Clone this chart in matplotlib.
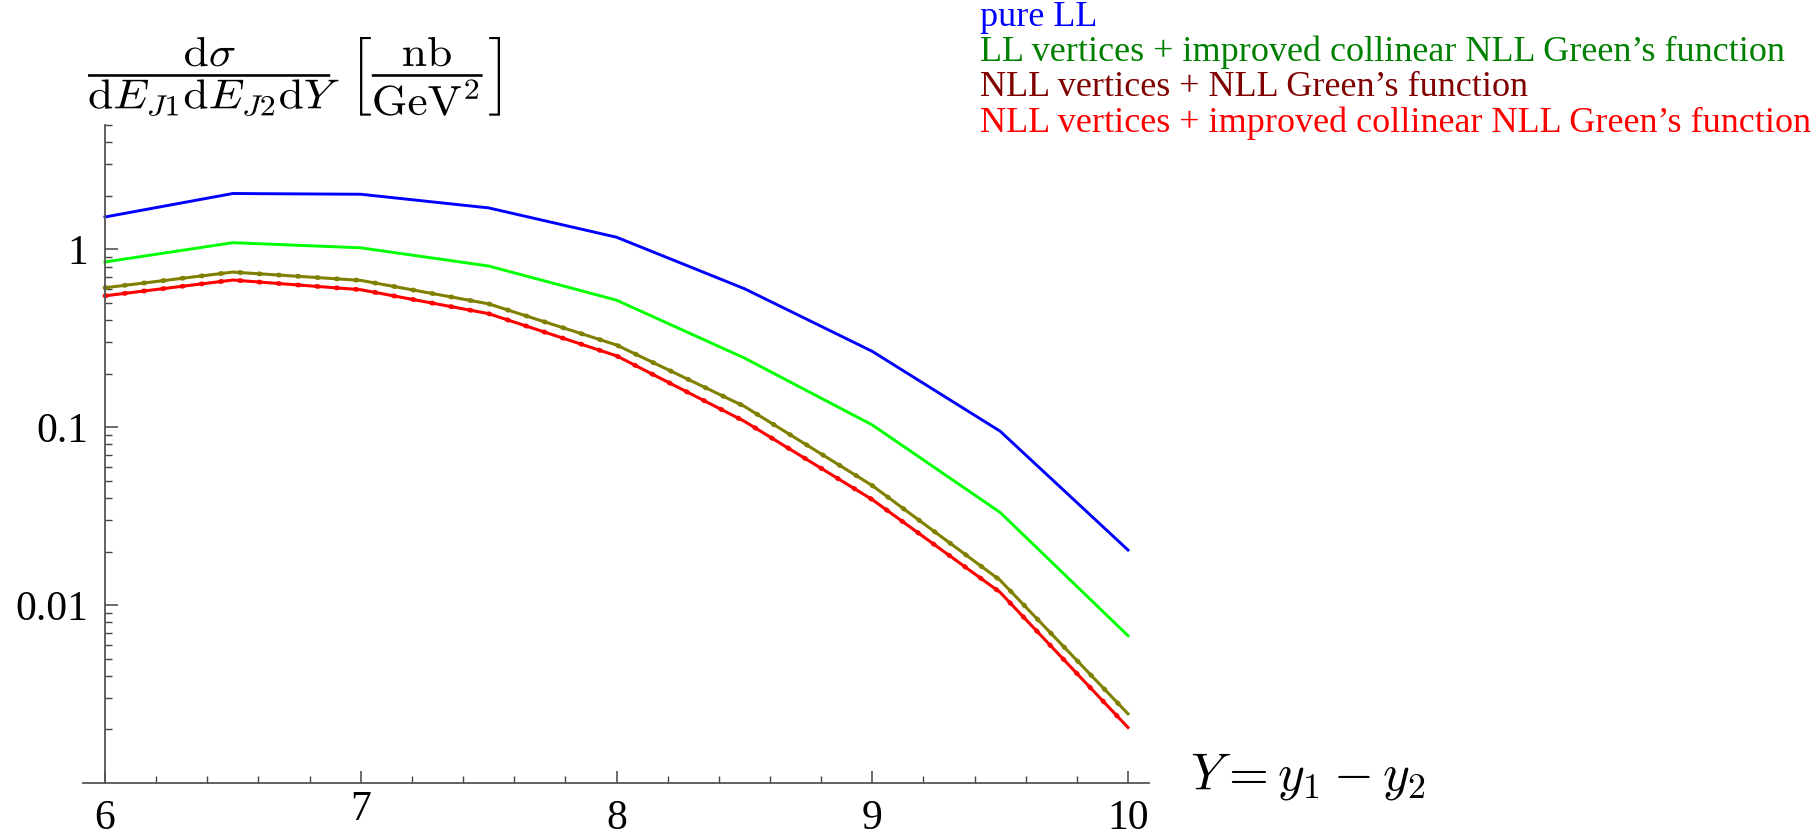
import matplotlib
matplotlib.use("Agg")
import matplotlib.pyplot as plt
from matplotlib.ticker import FixedLocator, NullFormatter
from matplotlib.textpath import TextPath
from matplotlib.patches import PathPatch
from matplotlib.transforms import Affine2D, ScaledTranslation

plt.rcParams['mathtext.fontset'] = 'cm'

# Data (rapidity difference Y, cross section in nb/GeV^2)
Y = [6.0, 6.5, 7.0, 7.5, 8.0, 8.5, 9.0, 9.5, 10.0]
pure_ll = [1.52, 2.06, 2.04, 1.71, 1.17, 0.601, 0.267, 0.095, 0.0204]
ll_vert_coll = [0.849, 1.09, 1.02, 0.806, 0.518, 0.245, 0.103, 0.0332, 0.00673]
nll_vert_nll = [0.608, 0.745, 0.669, 0.494, 0.29, 0.131, 0.047, 0.0138, 0.00245]
nll_vert_coll = [0.548, 0.672, 0.593, 0.435, 0.252, 0.108, 0.0392, 0.0118, 0.00205]

labels = ["pure LL",
          "LL vertices + improved collinear NLL Green\u2019s function",
          "NLL vertices + NLL Green\u2019s function",
          "NLL vertices + improved collinear NLL Green\u2019s function"]
line_colors = ["#0000ff", "#00ff00", "#808000", "#ff0000"]
text_colors = ["#0000ff", "#008000", "#800000", "#ff0000"]

W, H = 1820, 838
fig = plt.figure(figsize=(W / 100, H / 100), dpi=100)
ax = fig.add_axes([83 / W, 1 - 783 / H, (1149 - 83) / W, (783 - 125) / H])

ax.plot(Y, pure_ll, color=line_colors[0], lw=2.1)
ax.plot(Y, ll_vert_coll, color=line_colors[1], lw=2.1)
for vals, c in [(nll_vert_nll, line_colors[2]), (nll_vert_coll, line_colors[3])]:
    ax.plot(Y, vals, color=c, lw=2.2)
    # beaded look of the original curves
    ax.plot(Y, vals, color=c, lw=3.4, linestyle=(0, (0.3, 3.8)),
            dash_capstyle='round')

ax.set_yscale('log')
ax.set_xlim(6 - 22 / 255.75, 10 + 21 / 255.75)
ax.set_ylim(0.001, 5)

for s in ['top', 'right']:
    ax.spines[s].set_visible(False)
ax.spines['left'].set_position(('data', 6))
ax.spines['left'].set_bounds(0.001, 5)
for s in ['left', 'bottom']:
    ax.spines[s].set_color('#555555')
    ax.spines[s].set_linewidth(1.3)

ax.xaxis.set_major_locator(FixedLocator([6, 7, 8, 9, 10]))
ax.xaxis.set_minor_locator(FixedLocator([6 + 0.2 * i for i in range(21)]))
ax.yaxis.set_major_locator(FixedLocator([0.01, 0.1, 1]))
minor_y = [m * 10.0 ** e for e in range(-3, 1) for m in range(2, 10) if m * 10.0 ** e <= 5]
ax.yaxis.set_minor_locator(FixedLocator(minor_y))
ax.yaxis.set_minor_formatter(NullFormatter())
ax.set_yticklabels(["0.01", "0.1", "1"])
ax.set_xticklabels(["6", "7", "8", "9", "10"])

ax.tick_params(which='major', direction='in', length=9, width=1.1, color='#444444',
               labelsize=30, pad=12)
ax.tick_params(which='minor', direction='in', length=5, width=1.0, color='#444444')
for lab in ax.get_xticklabels() + ax.get_yticklabels():
    lab.set_fontfamily('Liberation Serif')
# the "7" sits a little higher in the original
lab7 = ax.get_xticklabels()[1]
lab7.set_transform(lab7.get_transform() + ScaledTranslation(0, 9 / 100, fig.dpi_scale_trans))

# y label: the original is stretched horizontally, so draw it as a path
ylab = (r'$\dfrac{\mathrm{d}\sigma}{\mathrm{d}E_{J1}\mathrm{d}E_{J2}\mathrm{d}Y}\ '
        r'\left[\dfrac{\mathrm{nb}}{\mathrm{GeV}^2}\right]$')
tp = TextPath((0, 0), ylab, size=30)
bb = tp.get_extents()
tr = (Affine2D().translate(-bb.x0, -bb.y0)
      .scale(412 / bb.width, 79 / bb.height)
      .translate(88, H - 116))
fig.add_artist(PathPatch(tp, transform=tr, facecolor='black', lw=0))

fig.text(1190 / W, 1 - 776 / H, r'$Y = y_1 - y_2$', fontsize=37, ha='left', va='center')

# legend as coloured text
rows = [18, 52, 87, 123]
for lab, c, r in zip(labels, text_colors, rows):
    fig.text(980 / W, 1 - r / H, lab, color=c, fontsize=26,
             family='Liberation Serif', ha='left', va='center')

fig.savefig("out.png", dpi=100)
